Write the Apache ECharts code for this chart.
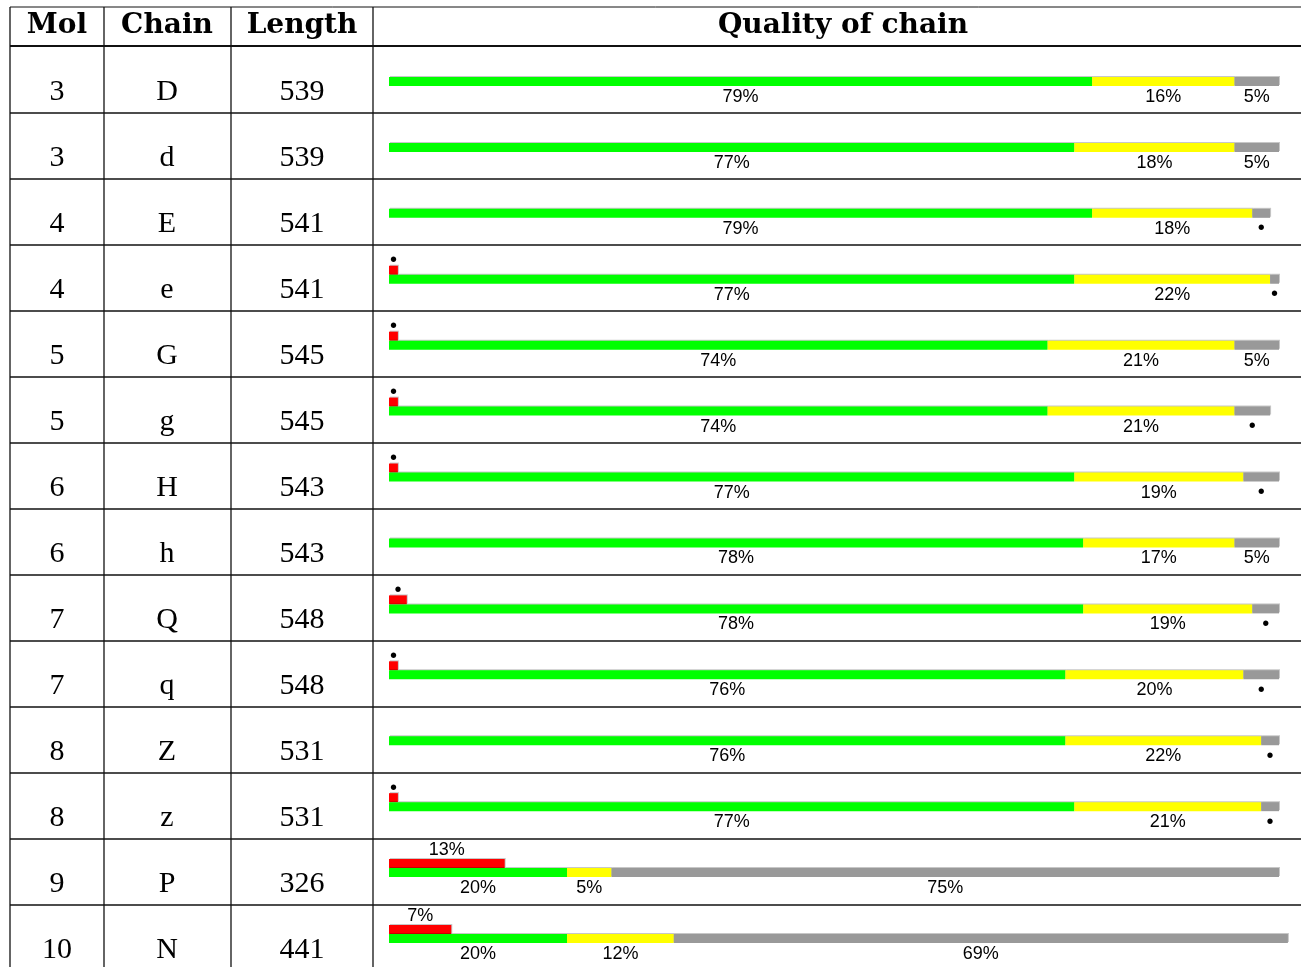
<!DOCTYPE html>
<html>
<head>
<meta charset="utf-8">
<script src="https://cdn.jsdelivr.net/npm/echarts@6/dist/echarts.min.js"></script>
<style>
  html, body { margin: 0; padding: 0; background: #fff; }
  #main { width: 1301px; height: 967px; }
</style>
</head>
<body>
<div id="main"></div>
<script>
// table columns
var mols = [3, 3, 4, 4, 5, 5, 6, 6, 7, 7, 8, 8, 9, 10]
var chains = ['D', 'd', 'E', 'e', 'G', 'g', 'H', 'h', 'Q', 'q', 'Z', 'z', 'P', 'N']
var lengths = [539, 539, 541, 541, 545, 545, 543, 543, 548, 548, 531, 531, 326, 441]
// quality of chain, percent of residues
var green = [79, 77, 79, 77, 74, 74, 77, 78, 78, 76, 76, 77, 20, 20]
var yellow = [16, 18, 18, 22, 21, 21, 19, 17, 19, 20, 22, 21, 5, 12]
var grey = [5, 5, 2, 1, 5, 4, 4, 5, 3, 4, 2, 2, 75, 69]
var red = [0, 0, 0, 1, 1, 1, 1, 0, 2, 1, 0, 1, 13, 7]
var headers = ['Mol', 'Chain', 'Length', 'Quality of chain']

var rowTop = 47
var rowH = 66
var colX = [10, 104, 231, 373]
var colMid = [57, 167, 302, 843]

var chart = echarts.init(document.getElementById('main'))

// table lines and text
var graphics = []
function hline(y, w) {
  graphics.push({ type: 'line', silent: true, shape: { x1: 10, y1: y, x2: 1301, y2: y }, style: { stroke: '#111', lineWidth: w } })
}
hline(7, 1)
hline(46, 2)
for (var i = 1; i < chains.length; i++) hline(rowTop + rowH * i, 1.3)
colX.forEach(function (x) {
  graphics.push({ type: 'line', silent: true, shape: { x1: x, y1: 7, x2: x, y2: 967 }, style: { stroke: '#111', lineWidth: 1.3 } })
})
headers.forEach(function (h, k) {
  graphics.push({ type: 'text', silent: true, style: { text: h, x: colMid[k], y: 26, textAlign: 'center', textVerticalAlign: 'middle', font: 'bold 28px "DejaVu Serif"', fill: '#000' } })
})
var cols = [mols, chains, lengths]
for (var r = 0; r < chains.length; r++) {
  for (var c = 0; c < 3; c++) {
    graphics.push({ type: 'text', silent: true, style: { text: String(cols[c][r]), x: colMid[c], y: rowTop + rowH * r + 45, textAlign: 'center', textVerticalAlign: 'middle', font: '30px "Liberation Serif"', fill: '#000' } })
  }
}

// small shares get a dot instead of a number
function pct(p) {
  var v = p.value
  if (!v) return ''
  if (v >= 5) return v + '%'
  return p.seriesName === 'outlier' ? '{u|\u2022}' : '{d|\u2022}'
}
var labelStyle = {
  show: true,
  formatter: pct,
  color: '#000',
  fontFamily: 'Liberation Sans',
  fontSize: 18,
  rich: {
    d: { fontSize: 20, lineHeight: 18, color: '#000' },
    u: { fontSize: 20, lineHeight: 10, color: '#000' }
  }
}
var barShadow = { shadowColor: 'rgba(0,0,0,0.22)', shadowOffsetX: 1, shadowOffsetY: -1, shadowBlur: 0 }

function seg(name, data, color, stack, pos, dist) {
  return {
    name: name,
    type: 'bar',
    stack: stack,
    data: data,
    barWidth: 9,
    barGap: '0%',
    clip: false,
    itemStyle: Object.assign({ color: color }, barShadow),
    label: Object.assign({ position: pos, distance: dist }, labelStyle),
    silent: true
  }
}

chart.setOption({
  animation: false,
  graphic: graphics,
  grid: { left: 389, top: 44, width: 8.9 * 102, height: rowH * chains.length },
  xAxis: { type: 'value', min: 0, max: 102, show: false },
  yAxis: { type: 'category', data: chains, inverse: true, show: false },
  series: [
    seg('outlier', red, '#ff0000', 'r', 'top', 0),
    seg('good', green, '#00ff00', 'q', 'bottom', 2),
    seg('fair', yellow, '#ffff00', 'q', 'bottom', 2),
    seg('poor', grey, '#999999', 'q', 'bottom', 2)
  ]
})
</script>
</body>
</html>
